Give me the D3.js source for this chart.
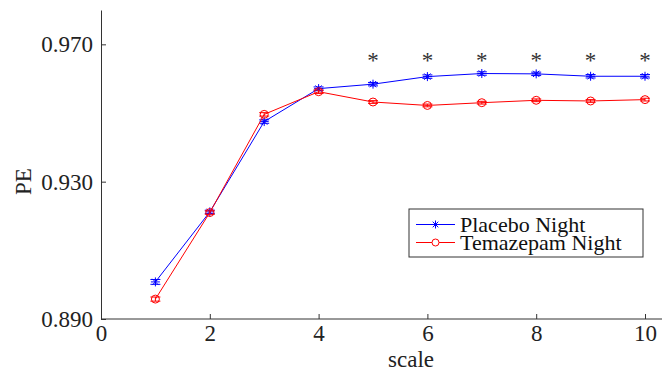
<!DOCTYPE html>
<html>
<head>
<meta charset="utf-8">
<title>PE by scale</title>
<script src="https://d3js.org/d3.v7.min.js"></script>
<style>
body { margin: 0; background: #fff; }
.axis path, .axis line { stroke: #333; }
</style>
</head>
<body>
<script>
// data
var scales = [1, 2, 3, 4, 5, 6, 7, 8, 9, 10];
var placebo = [0.9008, 0.9212, 0.9475, 0.9571, 0.9584, 0.9606, 0.9615, 0.9614, 0.9607, 0.9607];
var placeboErr = [0.0007, 0.0005, 0.0005, 0.0005, 0.0005, 0.0005, 0.0005, 0.0005, 0.0005, 0.0005];
var temazepam = [0.8958, 0.9210, 0.9496, 0.9562, 0.9532, 0.9522, 0.9530, 0.9537, 0.9535, 0.9539];
var temazepamErr = [0.0006, 0.0005, 0.0005, 0.0005, 0.0004, 0.0004, 0.0004, 0.0004, 0.0004, 0.0004];
var signif = [5, 6, 7, 8, 9, 10];
var xTicks = [0, 2, 4, 6, 8, 10];
var yTicks = [0.89, 0.93, 0.97];
var seriesNames = ["Placebo Night", "Temazepam Night"];

var W = 662, H = 371;
var margin = {top: 10, right: 17, bottom: 52, left: 101};
var FONT = "'Liberation Serif'";

var svg = d3.select("body").append("svg")
    .attr("width", W)
    .attr("height", H);

var x = d3.scaleLinear().domain([0, 10]).range([margin.left, W - margin.right]);
var y = d3.scaleLinear().domain([0.89, 0.98]).range([H - margin.bottom, margin.top]);

// axes (matlab style: ticks point inward)
var xAxis = svg.append("g")
    .attr("class", "axis")
    .attr("transform", "translate(0," + y(0.89) + ")")
    .call(d3.axisBottom(x).tickValues(xTicks).tickSizeInner(-5).tickSizeOuter(0).tickPadding(5));
xAxis.select(".domain").attr("d", "M" + x(0) + ",0H" + W);

var yAxis = svg.append("g")
    .attr("class", "axis")
    .attr("transform", "translate(" + x(0) + ",0)")
    .call(d3.axisLeft(y).tickValues(yTicks).tickFormat(d3.format(".3f")).tickSizeInner(-5).tickSizeOuter(0).tickPadding(8));

// d3 puts font attrs on the axis groups; drop them so our font wins
xAxis.attr("font-family", null).attr("font-size", null);
yAxis.attr("font-family", null).attr("font-size", null);

svg.selectAll(".axis text")
    .style("font-family", FONT)
    .style("font-size", "23px")
    .attr("fill", "#222");
xAxis.selectAll("text").attr("dy", "0.72em");

svg.append("text")
    .attr("x", 411)
    .attr("y", 367)
    .attr("text-anchor", "middle")
    .style("font-family", FONT)
    .style("font-size", "23px")
    .attr("fill", "#222")
    .text("scale");

svg.append("text")
    .attr("transform", "translate(31," + y(0.93) + ") rotate(-90)")
    .attr("text-anchor", "middle")
    .style("font-family", FONT)
    .style("font-size", "23px")
    .attr("fill", "#222")
    .text("PE");

var line = d3.line()
    .x(function(d) { return x(d[0]); })
    .y(function(d) { return y(d[1]); });

function starPath(s) {
  var d = s * 0.7;
  return "M" + (-s) + ",0H" + s + "M0," + (-s) + "V" + s +
    "M" + (-d) + "," + (-d) + "L" + d + "," + d +
    "M" + (-d) + "," + d + "L" + d + "," + (-d);
}

function drawSeries(vals, errs, color, marker) {
  var pts = scales.map(function(s, i) { return [s, vals[i], errs[i]]; });
  var g = svg.append("g");
  g.append("path")
      .datum(pts)
      .attr("d", line)
      .attr("fill", "none")
      .attr("stroke", color)
      .attr("stroke-width", 1);
  g.selectAll(".eb").data(pts).enter().append("path")
      .attr("fill", "none")
      .attr("stroke", color)
      .attr("stroke-width", 1)
      .attr("d", function(d) {
        var cx = x(d[0]), y0 = y(d[1] - d[2]), y1 = y(d[1] + d[2]);
        return "M" + cx + "," + y0 + "V" + y1 +
          "M" + (cx - 5) + "," + y0 + "H" + (cx + 5) +
          "M" + (cx - 5) + "," + y1 + "H" + (cx + 5);
      });
  if (marker === "star") {
    g.selectAll(".mk").data(pts).enter().append("path")
        .attr("transform", function(d) { return "translate(" + x(d[0]) + "," + y(d[1]) + ")"; })
        .attr("d", starPath(4.5))
        .attr("fill", "none")
        .attr("stroke", color)
        .attr("stroke-width", 1);
  } else {
    g.selectAll(".mk").data(pts).enter().append("circle")
        .attr("cx", function(d) { return x(d[0]); })
        .attr("cy", function(d) { return y(d[1]); })
        .attr("r", 4)
        .attr("fill", "none")
        .attr("stroke", color)
        .attr("stroke-width", 1);
  }
}

drawSeries(placebo, placeboErr, "#0000ff", "star");
drawSeries(temazepam, temazepamErr, "#ff0000", "circle");

// significance stars
svg.selectAll(".sig").data(signif).enter().append("text")
    .attr("x", function(d) { return x(d); })
    .attr("y", y(0.9632))
    .attr("text-anchor", "middle")
    .style("font-family", FONT)
    .style("font-size", "23px")
    .attr("fill", "#333")
    .text("*");

// legend
var lg = svg.append("g").attr("transform", "translate(409,209)");
lg.append("rect")
    .attr("width", 234)
    .attr("height", 48)
    .attr("fill", "#fff")
    .attr("stroke", "#333")
    .attr("stroke-width", 1);
var colors = ["#0000ff", "#ff0000"];
seriesNames.forEach(function(name, i) {
  var ly = 15.5 + i * 18;
  lg.append("line")
      .attr("x1", 7).attr("x2", 46)
      .attr("y1", ly).attr("y2", ly)
      .attr("stroke", colors[i]);
  if (i === 0) {
    lg.append("path")
        .attr("transform", "translate(26.5," + ly + ")")
        .attr("d", starPath(4))
        .attr("fill", "none")
        .attr("stroke", colors[i]);
  } else {
    lg.append("circle")
        .attr("cx", 26.5).attr("cy", ly).attr("r", 3.5)
        .attr("fill", "#fff")
        .attr("stroke", colors[i]);
  }
  lg.append("text")
      .attr("x", 51)
      .attr("y", ly)
      .attr("dy", "0.33em")
      .style("font-family", FONT)
      .style("font-size", "22px")
      .attr("fill", "#111")
      .text(name);
});
</script>
</body>
</html>
